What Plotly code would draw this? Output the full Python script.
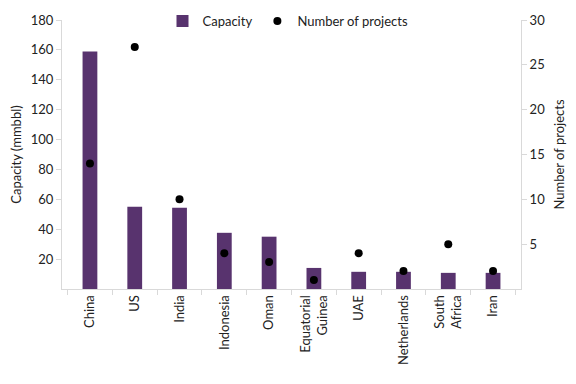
import plotly.graph_objects as go

countries = ["China", "US", "India", "Indonesia", "Oman", "Equatorial<br>Guinea",
             "UAE", "Netherlands", "South<br>Africa", "Iran"]
capacity = [159, 55, 54.3, 37.6, 35, 14.1, 11.5, 11.5, 10.8, 10.8]
projects = [14, 27, 10, 4, 3, 1, 4, 2, 5, 2]

left_ticks = [20, 40, 60, 80, 100, 120, 140, 160, 180]
right_ticks = [5, 10, 15, 20, 25, 30]

FONT = "Lato, Calibri, Carlito, sans-serif"
AXC = "#d9d9d9"
W, H = 568, 376  # page body has an 8px margin

fig = go.Figure()
fig.add_trace(go.Bar(x=countries, y=capacity, name="Capacity",
                     marker=dict(color="#58336e", line=dict(width=0)),
                     width=0.33, yaxis="y"))
fig.add_trace(go.Scatter(x=countries, y=projects, name="Number of projects",
                         mode="markers", marker=dict(color="black", size=8),
                         yaxis="y2"))

fig.update_layout(
    width=W, height=H,
    margin=dict(l=54, r=55, t=12, b=95, autoexpand=False),
    paper_bgcolor="white", plot_bgcolor="white",
    font=dict(family=FONT, size=13, color="#222"),
    showlegend=True,
    legend=dict(orientation="h", x=280 / W, xref="container", xanchor="center",
                y=1 - 13 / H, yref="container", yanchor="middle",
                font=dict(size=13), bgcolor="rgba(0,0,0,0)", itemwidth=30,
                tracegroupgap=0),
    xaxis=dict(type="category", tickangle=-90, showline=True, linecolor=AXC,
               ticks="outside", tickcolor=AXC, ticklen=5, tickson="boundaries",
               showgrid=False, tickfont=dict(size=13), automargin=False),
    yaxis=dict(range=[0, 180], tickvals=left_ticks, showline=True, linecolor=AXC,
               ticks="outside", tickcolor=AXC, ticklen=5, showgrid=False,
               zeroline=False, automargin=False,
               title=dict(text="Capacity (mmbbl)", font=dict(size=13), standoff=9)),
    yaxis2=dict(range=[0, 30], tickvals=right_ticks, overlaying="y", side="right",
                showline=True, linecolor=AXC, ticks="outside", tickcolor=AXC,
                ticklen=5, showgrid=False, zeroline=False, automargin=False,
                title=dict(text="Number of projects", font=dict(size=13), standoff=10)),
)

fig.write_html("out.html")
